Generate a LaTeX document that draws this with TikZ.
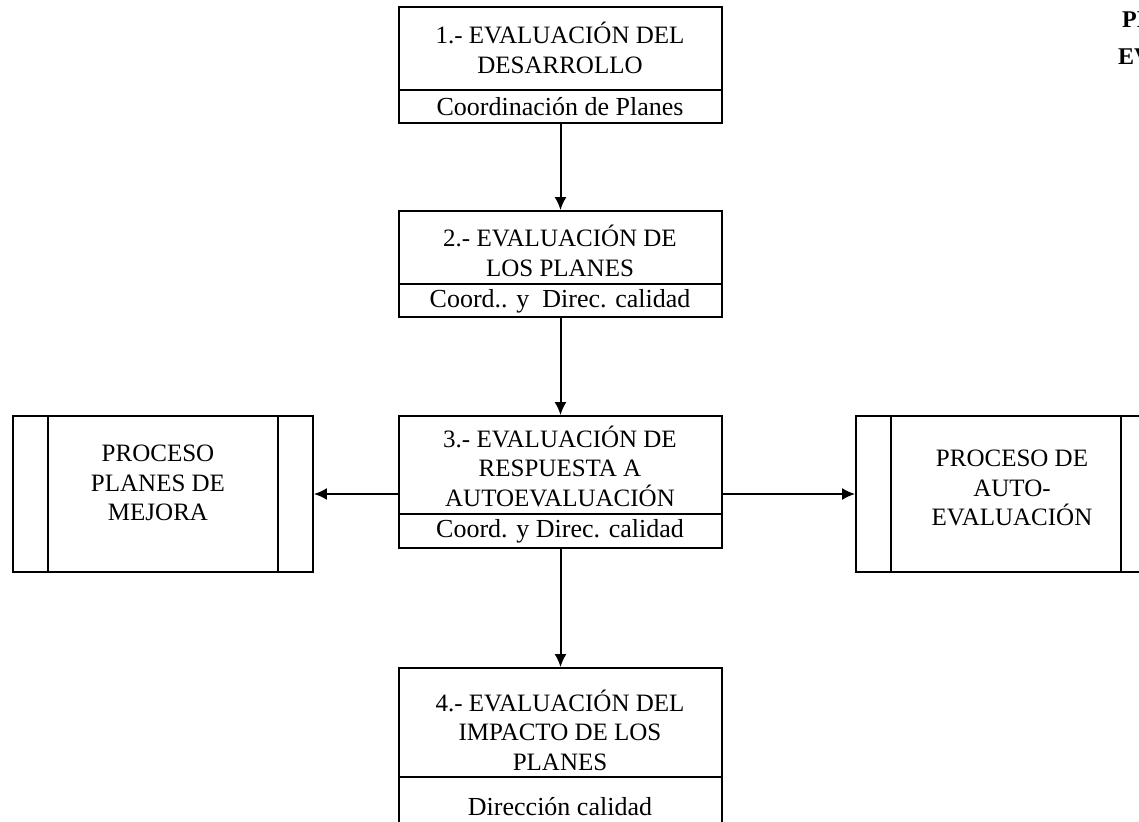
\documentclass[tikz,border=0pt]{standalone}
\usepackage{fontspec}
\setmainfont{Liberation Serif}
\usetikzlibrary{arrows.meta}
\tikzset{
  box/.style={draw, line width=1.8pt, rectangle, inner sep=0pt},
  divline/.style={line width=1.8pt},
  txt/.style={align=center, inner sep=0pt, font=\fontsize{25}{29.5}\selectfont},
  subtxt/.style={inner sep=0pt, font=\fontsize{26}{30}\selectfont},
  arr/.style={line width=2pt, -{Latex[length=13pt,width=12pt]}},
  ttl/.style={anchor=base west, inner sep=0pt, font=\bfseries\fontsize{24}{28}\selectfont}
}
\begin{document}
\begin{tikzpicture}[x=1pt,y=-1pt]
\useasboundingbox (0,0) rectangle (1139,821);
\clip (0,0) rectangle (1139,821);
\fill[white] (0,0) rectangle (1139,821);
% main column
\node[box, minimum width=323pt, minimum height=116pt] (b1) at (560.5,65) {};
\draw[divline] (b1.west |- 0,90) -- (b1.east |- 0,90);
\node[txt] (t1) at (560,48) {1.- EVALUACIÓN DEL\\DESARROLLO};
\node[subtxt] (s1) at (560,107) {Coordinación de Planes};

\node[box, minimum width=323pt, minimum height=106pt] (b2) at (560.5,264) {};
\draw[divline] (b2.west |- 0,284) -- (b2.east |- 0,284);
\node[txt] (t2) at (560,251) {2.- EVALUACIÓN DE\\LOS PLANES};
\node[subtxt] (s2) at (560,301) {Coord.. y\ \ Direc. calidad};

\node[box, minimum width=323pt, minimum height=132pt] (b3) at (560.5,482) {};
\draw[divline] (b3.west |- 0,514) -- (b3.east |- 0,514);
\node[txt] (t3) at (560,466) {3.- EVALUACIÓN DE\\RESPUESTA A\\AUTOEVALUACIÓN};
\node[subtxt] (s3) at (560,531) {Coord. y Direc. calidad};

\node[box, minimum width=323pt, minimum height=160pt] (b4) at (560.5,748) {};
\draw[divline] (b4.west |- 0,777) -- (b4.east |- 0,777);
\node[txt] (t4) at (560,730) {4.- EVALUACIÓN DEL\\IMPACTO DE LOS\\PLANES};
\node[subtxt] (s4) at (560,807) {Dirección calidad};

% side boxes
\node[box, minimum width=300pt, minimum height=156pt] (pl) at (163,494) {};
\draw[divline] ([xshift=36pt]pl.north west) -- ([xshift=36pt]pl.south west);
\draw[divline] ([xshift=-36pt]pl.north east) -- ([xshift=-36pt]pl.south east);
\node[txt] (tpl) at (158,483) {PROCESO\\PLANES DE\\MEJORA};

\node[box, minimum width=300pt, minimum height=156pt] (pa) at (1006,494) {};
\draw[divline] ([xshift=36pt]pa.north west) -- ([xshift=36pt]pa.south west);
\draw[divline] ([xshift=-36pt]pa.north east) -- ([xshift=-36pt]pa.south east);
\node[txt] (tpa) at (1012,488) {PROCESO DE\\AUTO-\\EVALUACIÓN};

% connectors
\draw[arr] (b1.south) -- (b2.north);
\draw[arr] (b2.south) -- (b3.north);
\draw[arr] (b3.south) -- (b4.north);
\draw[arr] (b3.west |- pl.east) -- (pl.east);
\draw[arr] (b3.east |- pa.west) -- (pa.west);

% cut-off title at the right edge
\node[ttl] (ti1) at (1122,28) {PR};
\node[ttl] (ti2) at (1118,65) {EV};
\end{tikzpicture}
\end{document}
